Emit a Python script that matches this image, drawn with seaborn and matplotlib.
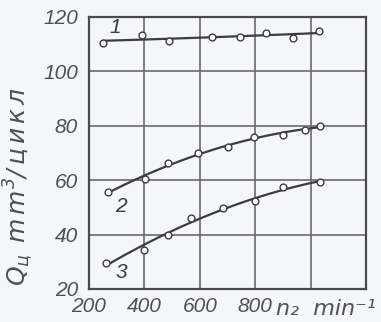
import matplotlib
matplotlib.use("Agg")
import matplotlib.pyplot as plt
import numpy as np
import pandas as pd
import seaborn as sns

# Cycle delivery Q_ц versus pump shaft speed n₂ for three operating modes
n_1 = [250, 390, 490, 645, 745, 840, 935, 1030]
q_1 = [110.5, 113.4, 111.2, 112.6, 112.6, 114.1, 112.3, 114.9]

n_2 = [270, 402, 485, 595, 700, 795, 900, 980, 1035]
q_2 = [55.7, 60.5, 66.3, 70.0, 72.3, 75.8, 76.7, 78.6, 80.0]

n_3 = [261, 399, 485, 568, 683, 800, 901, 1034]
q_3 = [29.6, 34.4, 39.9, 46.0, 49.8, 52.3, 57.5, 59.2]

curve_names = ["1", "2", "3"]
x_ticks = [200, 400, 600, 800, 1000, 1200]
x_tick_labels = ["200", "400", "600", "800", "", ""]
y_ticks = [20, 40, 60, 80, 100, 120]

df = pd.concat([
    pd.DataFrame({"n": n, "q": q, "curve": name})
    for n, q, name in zip([n_1, n_2, n_3], [q_1, q_2, q_3], curve_names)
])

sns.set_style("white")
plt.rcParams["font.family"] = ["Liberation Sans", "DejaVu Sans"]
plt.rcParams["mathtext.fontset"] = "custom"
plt.rcParams["mathtext.it"] = "DejaVu Sans:italic"
plt.rcParams["mathtext.rm"] = "DejaVu Sans:italic"

ink = "#3c3c3c"
label_ink = "#505050"
paper = "#f4f6fa"

fig = plt.figure(figsize=(3.81, 3.22), dpi=100, facecolor=paper)
ax = fig.add_axes([89 / 381, 1 - 289 / 322, 277 / 381, 272 / 322])
ax.set_facecolor(paper)

for name in curve_names:
    sub = df[df["curve"] == name]
    sns.regplot(data=sub, x="n", y="q", order=2, ci=None, scatter=False,
                ax=ax, line_kws=dict(color=ink, lw=1.6, zorder=3))
    sns.scatterplot(data=sub, x="n", y="q", ax=ax, marker="o", s=24,
                    facecolor="white", edgecolor=ink, linewidth=1.0,
                    zorder=4, legend=False)

ax.set_xlim(200, 1200)
ax.set_ylim(20, 120)
ax.set_xticks(x_ticks)
ax.set_xticklabels(x_tick_labels)
ax.set_yticks(y_ticks)
ax.grid(True, color="#6a6a6a", lw=1.2)
ax.set_axisbelow(True)
for s in ax.spines.values():
    s.set_visible(True)
    s.set_color("#4a4a4a")
    s.set_linewidth(1.6)
ax.tick_params(axis="y", length=0, pad=8, labelsize=15, labelcolor=label_ink)
ax.tick_params(axis="x", length=0, pad=6, labelsize=15, labelcolor=label_ink)
for lab in ax.get_xticklabels() + ax.get_yticklabels():
    lab.set_fontstyle("italic")
ax.set_xlabel("")
ax.set_ylabel("")

# curve numbers
txt = dict(fontsize=15, style="italic", color=ink, ha="center", va="center")
ax.text(n_1[0] + 45, 116.0, "1", **txt)
ax.text(n_2[0] + 45, 50.5, "2", **txt)
ax.text(n_3[0] + 55, 26.0, "3", **txt)

# axis titles
ax.text(1055, -0.035, "n₂  min⁻¹", transform=ax.get_xaxis_transform(),
        fontsize=16, style="italic", color=label_ink, ha="center", va="top",
        family=["DejaVu Sans"])
fig.text(19 / 381, 1 - 186 / 322,
         r"$Q_{ц}\;\,m\,m^{3}/\,ц\,и\,к\,л$",
         rotation=90, fontsize=18, color=label_ink,
         ha="center", va="center")

fig.savefig("out.png", dpi=100, facecolor=paper)
